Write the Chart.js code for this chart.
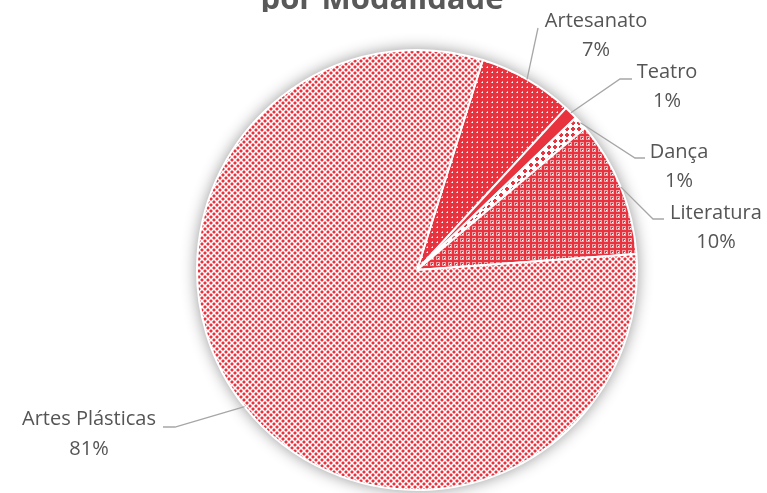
<!DOCTYPE html>
<html>
<head>
<meta charset="utf-8">
<script src="https://cdn.jsdelivr.net/npm/chart.js@4.4.1/dist/chart.umd.min.js"></script>
<style>
  html, body { margin: 0; padding: 0; background: #fff; }
  #wrap { width: 767px; height: 493px; position: relative; }
</style>
</head>
<body>
<div id="wrap"><canvas id="pie_modalidade"></canvas></div>
<script>
// data
var categories = ['Artesanato', 'Teatro', 'Dança', 'Literatura', 'Artes Plásticas'];
var percents = [7, 1, 1, 10, 81];
var pctLabels = ['7%', '1%', '1%', '10%', '81%'];

var RED = '#E8333F';
var PINK = '#F4A3A9';

// small tiles for the Excel-like pattern fills
function tile(size, draw) {
  var c = document.createElement('canvas');
  c.width = size; c.height = size;
  var g = c.getContext('2d');
  draw(g);
  return g.createPattern(c, 'repeat');
}
function px(g, col, pts) {
  g.fillStyle = col;
  pts.forEach(function (p) { g.fillRect(p[0], p[1], p[2] || 1, p[3] || 1); });
}

var patArtesanato = tile(5, function (g) {
  g.fillStyle = RED; g.fillRect(0, 0, 5, 5);
  px(g, PINK, [[2, 1], [1, 2]]);
  px(g, '#fff', [[2, 2]]);
});
var patLiteratura = tile(6, function (g) {
  px(g, PINK, [[0, 0, 6, 6]]);
  px(g, '#fff', [[0, 0]]);
  px(g, RED, [[2, 0, 2, 6], [0, 2, 6, 2]]);
  px(g, RED, [[5, 5], [0, 5], [5, 0]]);
});
var patDanca = tile(6, function (g) {
  g.fillStyle = '#fff'; g.fillRect(0, 0, 6, 6);
  px(g, RED, [[2, 1, 2, 4], [1, 2, 4, 2]]);
});
var patPlasticas = tile(6, function (g) {
  g.fillStyle = '#fff'; g.fillRect(0, 0, 6, 6);
  px(g, PINK, [[2, 0, 1, 2], [0, 2, 2, 1], [5, 3, 1, 2], [3, 5, 2, 1],
               [5, 0, 1, 2], [0, 5, 2, 1], [2, 3, 1, 2], [3, 2, 2, 1]]);
  px(g, RED, [[0, 0, 2, 2], [3, 3, 2, 2]]);
});

var fills = [patArtesanato, RED, patDanca, patLiteratura, patPlasticas];

// where the data labels sit (text), and the leader elbows
var labelPos = [
  { x: 596, y1: 21, y2: 50, line: [[538, 28]] },
  { x: 667, y1: 72, y2: 101, line: [[620, 79], [632, 79]] },
  { x: 679, y1: 152, y2: 181, line: [[635, 158], [645, 158]] },
  { x: 716, y1: 213, y2: 242, line: [[653, 219], [664, 219]] },
  { x: 89, y1: 419, y2: 449, line: [[175, 427], [163, 427]] }
];

var pieShadow = {
  id: 'pieShadow',
  beforeDatasetsDraw: function (chart) {
    var arc = chart.getDatasetMeta(0).data[0];
    if (!arc) return;
    var ctx = chart.ctx;
    ctx.save();
    ctx.shadowColor = 'rgba(0,0,0,0.45)';
    ctx.shadowBlur = 16;
    ctx.fillStyle = '#fff';
    ctx.beginPath();
    ctx.arc(arc.x, arc.y, arc.outerRadius, 0, Math.PI * 2);
    ctx.fill();
    ctx.restore();
  }
};

var labelsPlugin = {
  id: 'excelLabels',
  afterDatasetsDraw: function (chart) {
    var ctx = chart.ctx;
    var meta = chart.getDatasetMeta(0);
    ctx.save();
    // title, mostly cut off by the top edge
    ctx.beginPath();
    ctx.rect(0, 0, chart.width, 12);
    ctx.clip();
    ctx.fillStyle = '#595959';
    ctx.font = 'bold 31px "Open Sans"';
    ctx.textAlign = 'center';
    ctx.textBaseline = 'alphabetic';
    ctx.fillText('por Modalidade', 382, 9);
    ctx.restore();

    ctx.save();
    ctx.strokeStyle = '#A6A6A6';
    ctx.lineWidth = 1.3;
    ctx.fillStyle = '#555555';
    ctx.font = '20px "Open Sans"';
    ctx.textAlign = 'center';
    ctx.textBaseline = 'middle';
    meta.data.forEach(function (arc, i) {
      var mid = (arc.startAngle + arc.endAngle) / 2;
      var sx = arc.x + Math.cos(mid) * arc.outerRadius;
      var sy = arc.y + Math.sin(mid) * arc.outerRadius;
      var lp = labelPos[i];
      ctx.beginPath();
      ctx.moveTo(sx, sy);
      lp.line.forEach(function (p) { ctx.lineTo(p[0], p[1]); });
      ctx.stroke();
      ctx.fillText(categories[i], lp.x, lp.y1);
      ctx.fillText(pctLabels[i], lp.x, lp.y2);
    });
    ctx.restore();
  }
};

var pieChart = new Chart('pie_modalidade', {
  type: 'pie',
  data: {
    labels: categories,
    datasets: [{
      data: percents,
      backgroundColor: fills,
      borderColor: '#fff',
      borderWidth: 2
    }]
  },
  options: {
    responsive: true,
    maintainAspectRatio: false,
    animation: false,
    rotation: 17.4,
    layout: { padding: { left: 196, right: 129, top: 49, bottom: 2 } },
    plugins: {
      legend: { display: false },
      tooltip: { enabled: false },
      title: { display: false }
    }
  },
  plugins: [pieShadow, labelsPlugin]
});
</script>
</body>
</html>
